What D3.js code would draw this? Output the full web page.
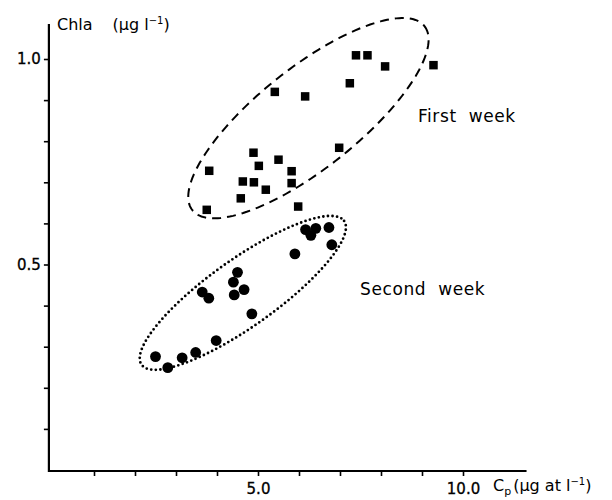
<!DOCTYPE html>
<html>
<head>
<meta charset="utf-8">
<script src="https://cdn.jsdelivr.net/npm/d3@7.9.0/dist/d3.min.js"></script>
<style>
  body { margin: 0; background: #fff; }
  svg text { font-family: "DejaVu Sans", sans-serif; fill: #000; }
</style>
</head>
<body>
<svg id="chart" width="612" height="500"></svg>
<script>
// first week (squares): Cp, Chla
const week1Cp   = [3.81, 4.89, 5.02, 5.50, 5.82, 4.63, 4.90, 5.19, 5.82, 4.58, 3.75, 5.98, 7.39, 7.67, 8.10, 9.28, 7.24, 5.41, 6.15, 6.98];
const week1Chla = [0.728, 0.772, 0.740, 0.755, 0.727, 0.702, 0.700, 0.682, 0.698, 0.661, 0.633, 0.641, 1.009, 1.009, 0.982, 0.985, 0.941, 0.920, 0.909, 0.784];

// second week (circles)
const week2Cp   = [2.50, 2.80, 3.15, 3.48, 3.98, 4.85, 3.64, 3.80, 4.50, 4.40, 4.42, 4.66, 6.16, 6.41, 6.29, 6.73, 6.80, 5.90];
const week2Chla = [0.276, 0.249, 0.273, 0.286, 0.315, 0.380, 0.433, 0.418, 0.481, 0.457, 0.426, 0.439, 0.585, 0.588, 0.571, 0.590, 0.548, 0.526];

const xTicks = [1, 2, 3, 4, 5, 6, 7, 8, 9, 10];
const xTickLabels = { 5: "5.0", 10: "10.0" };
const yTicks = [0.1, 0.2, 0.3, 0.4, 0.5, 0.6, 0.7, 0.8, 0.9, 1.0];
const yTickLabels = { 0.5: "0.5", 1: "1.0" };

// envelopes: centre, end of long axis (data units), short/long ratio
const envelopes = [
  { center: [6.23, 0.856], tip: [9.06, 1.080], ratio: 0.34, dash: "9,6", width: 2, cap: "butt" },
  { center: [4.63, 0.431], tip: [7.10, 0.606], ratio: 0.27, dash: "0,4.6", width: 2.8, cap: "round" }
];
const groupLabels = [
  { text: "First  week", x: 8.9, y: 0.847 },
  { text: "Second  week", x: 7.49, y: 0.426 }
];

const svg = d3.select("#chart");

const x = d3.scaleLinear().domain([0, 10]).range([53, 463]);
const y = d3.scaleLinear().domain([0, 1]).range([470, 59]);

// axes
const xAxis = d3.axisBottom(x)
  .tickValues(xTicks)
  .tickSize(5)
  .tickSizeOuter(0)
  .tickFormat(d => xTickLabels[d] || "");
const gx = svg.append("g").attr("transform", `translate(0,${y(0) + 1})`).call(xAxis);
gx.select(".domain").remove();
gx.selectAll(".tick line").attr("stroke-width", 1.6);
gx.selectAll(".tick text").attr("font-size", 15).attr("dy", "1.0em")
  .attr("stroke", "#000").attr("stroke-width", 0.3);
gx.append("line")
  .attr("x1", x(-0.1)).attr("x2", x(11.55))
  .attr("stroke", "#000").attr("stroke-width", 2.2);

const yAxis = d3.axisLeft(y)
  .tickValues(yTicks)
  .tickSize(5)
  .tickSizeOuter(0)
  .tickFormat(d => yTickLabels[d] || "");
const gy = svg.append("g").attr("transform", `translate(${x(-0.1)},0)`).call(yAxis);
gy.select(".domain").remove();
gy.selectAll(".tick line").attr("stroke-width", 1.6);
gy.selectAll(".tick text").attr("font-size", 15).attr("x", -8)
  .attr("stroke", "#000").attr("stroke-width", 0.3);
gy.append("line")
  .attr("y1", y(0) + 2).attr("y2", y(1.085))
  .attr("stroke", "#000").attr("stroke-width", 2.2);

// axis titles
const yTitle = svg.append("text").attr("x", 57).attr("y", 30).attr("font-size", 16);
yTitle.append("tspan").text("Chla");
yTitle.append("tspan").attr("dx", 20).text("(\u00b5g l");
yTitle.append("tspan").attr("dy", -6).attr("font-size", 10).text("\u22121");
yTitle.append("tspan").attr("dy", 6).text(")");

const xTitle = svg.append("text").attr("x", 493).attr("y", 491).attr("font-size", 16);
xTitle.append("tspan").text("C");
xTitle.append("tspan").attr("dy", 4).attr("font-size", 11).text("p");
xTitle.append("tspan").attr("dy", -4).attr("dx", 2).text("(\u00b5g at l");
xTitle.append("tspan").attr("dy", -6).attr("font-size", 10).text("\u22121");
xTitle.append("tspan").attr("dy", 6).text(")");

// envelopes
envelopes.forEach(e => {
  const cx = x(e.center[0]), cy = y(e.center[1]);
  const tx = x(e.tip[0]), ty = y(e.tip[1]);
  const a = Math.hypot(tx - cx, ty - cy);
  const b = a * e.ratio;
  const ang = Math.atan2(ty - cy, tx - cx);
  const pts = d3.range(0, 2 * Math.PI, Math.PI / 90).map(t => {
    const ex = a * Math.cos(t), ey = b * Math.sin(t);
    return [cx + ex * Math.cos(ang) - ey * Math.sin(ang), cy + ex * Math.sin(ang) + ey * Math.cos(ang)];
  });
  svg.append("path")
    .attr("d", d3.line().curve(d3.curveLinearClosed)(pts))
    .attr("fill", "none")
    .attr("stroke", "#000")
    .attr("stroke-width", e.width)
    .attr("stroke-dasharray", e.dash)
    .attr("stroke-linecap", e.cap);
});

// points
const week1 = week1Cp.map((v, i) => ({ cp: v, chla: week1Chla[i] }));
const week2 = week2Cp.map((v, i) => ({ cp: v, chla: week2Chla[i] }));
const sq = 8.5;

svg.append("g").selectAll("rect")
  .data(week1)
  .join("rect")
  .attr("x", d => x(d.cp) - sq / 2)
  .attr("y", d => y(d.chla) - sq / 2)
  .attr("width", sq)
  .attr("height", sq)
  .attr("fill", "#000");

svg.append("g").selectAll("circle")
  .data(week2)
  .join("circle")
  .attr("cx", d => x(d.cp))
  .attr("cy", d => y(d.chla))
  .attr("r", 5.4)
  .attr("fill", "#000");

// group labels
svg.selectAll(".glabel")
  .data(groupLabels)
  .join("text")
  .attr("class", "glabel")
  .attr("x", d => x(d.x))
  .attr("y", d => y(d.y))
  .attr("font-size", 17)
  .attr("letter-spacing", 0.6)
  .style("white-space", "pre")
  .text(d => d.text);
</script>
</body>
</html>
